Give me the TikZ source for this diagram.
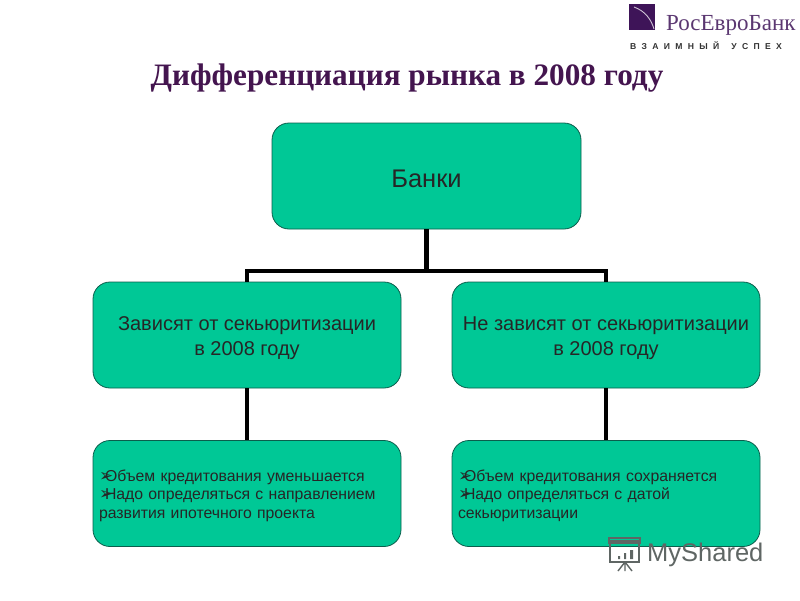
\documentclass[tikz,border=0pt]{standalone}
\usepackage{fontspec}
\setmainfont{Liberation Sans}
\newfontfamily\titlefont{Liberation Serif}
\newfontfamily\symfont{DejaVu Sans}
\newfontfamily\spacedfont[LetterSpace=62]{Liberation Sans}
\definecolor{boxgreen}{HTML}{00C896}
\definecolor{boxedge}{HTML}{0B5E4C}
\definecolor{titlepurple}{HTML}{44154F}
\definecolor{logopurple}{HTML}{3E1458}
\definecolor{markgrey}{HTML}{5F6664}
\newcommand{\arrowbullet}{\makebox[6pt][l]{\smash{\symfont\fontsize{17}{12}\selectfont ➢}}}
\tikzset{
  greenbox/.style={draw=boxedge,line width=0.8pt,fill=boxgreen,rounded corners=17pt,
    minimum width=308pt,minimum height=106pt,inner sep=0pt,align=center,text=black!85,
    font=\fontsize{20}{25}\selectfont},
  leafbox/.style={greenbox,text width=296pt,align=left,font=\fontsize{15.8}{18.5}\selectfont},
  connector/.style={line width=4.4pt,black,line cap=butt,line join=miter}
}
\begin{document}
\begin{tikzpicture}[x=1pt,y=-1pt]
\useasboundingbox (0,0) rectangle (800,600);
\fill[white] (0,0) rectangle (800,600);
% logo
\fill[logopurple] (629,4) rectangle (655,30);
\draw[white!75!logopurple,line width=0.9pt] (634,7) .. controls (645,11) and (651,19) .. (654,29);
\node[anchor=west,inner sep=0pt,text=logopurple!85!white,font=\titlefont\fontsize{23}{25}\selectfont] (logo) at (666,25) {РосЕвроБанк};
\node[anchor=west,inner sep=0pt,text=black!80,font=\spacedfont\bfseries\fontsize{8.6}{9}\selectfont] (slogan) at (630,46) {ВЗАИМНЫЙ\hspace{12pt}УСПЕХ};
% title
\node[inner sep=0pt,text=titlepurple,font=\titlefont\bfseries\fontsize{31.2}{34}\selectfont] (title) at (407,78) {Дифференциация рынка в 2008 году};
% boxes
\node[greenbox,minimum width=309pt,font=\fontsize{25.5}{28}\selectfont] (top) at (426.5,176) {\rule{0pt}{24pt}Банки};
\node[greenbox] (ml) at (247,335) {\rule{0pt}{20pt}Зависят от секьюритизации\\в 2008 году};
\node[greenbox] (mr) at (606,335) {\rule{0pt}{20pt}Не зависят от секьюритизации\\в 2008 году};
\node[leafbox] (bl) at (247,493.5) {\rule{0pt}{16pt}\arrowbullet Объем кредитования уменьшается\\\arrowbullet Надо определяться с направлением\\развития ипотечного проекта};
\node[leafbox] (br) at (606,493.5) {\rule{0pt}{16pt}\arrowbullet Объем кредитования сохраняется\\\arrowbullet Надо определяться с датой\\секьюритизации};
% connectors
\coordinate (junction) at (426.5,271);
\draw[connector] (top.south) -- (junction);
\draw[connector] (ml.north) |- (junction) -| (mr.north);
\draw[connector] (ml.south) -- (bl.north);
\draw[connector] (mr.south) -- (br.north);
% watermark
\begin{scope}[markgrey,line width=1.4pt]
\draw (610,541) rectangle (639,562);
\draw (609,538) -- (640,538) -- (640,543) -- (609,543) -- cycle;
\draw (625,562) -- (618,571) (625,562) -- (625,571) (625,562) -- (632,571);
\fill (618,556) rectangle (620,559) (624,553) rectangle (626,559) (630,550) rectangle (633,559);
\end{scope}
\node[anchor=west,inner sep=0pt,text=markgrey,font=\fontsize{25.5}{27}\selectfont] (mark) at (647,555) {MyShared};
\end{tikzpicture}
\end{document}
